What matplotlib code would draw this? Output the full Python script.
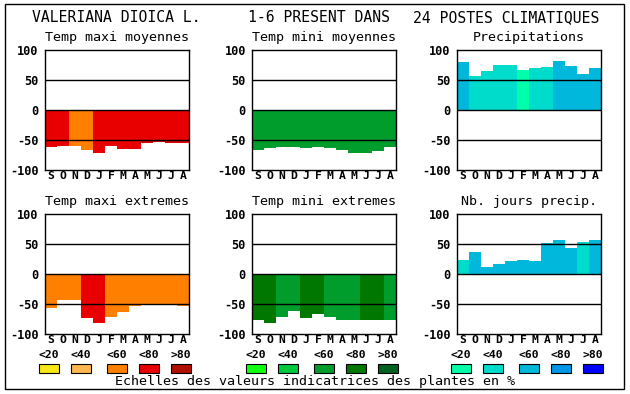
import matplotlib.pyplot as plt
from matplotlib.patches import Rectangle

plt.rcParams["font.family"] = "DejaVu Sans Mono"

W, H = 630, 394

MONTHS = ["S", "O", "N", "D", "J", "F", "M", "A", "M", "J", "J", "A"]
CLASSES = ["<20", "<40", "<60", "<80", ">80"]

WARM = ["#f8e818", "#ffb850", "#ff8000", "#e80000", "#b01000"]
GREEN = ["#10ff10", "#00c83c", "#009c2c", "#007800", "#006020"]
BLUE = ["#00ffaa", "#00dccc", "#00b8dc", "#0096e6", "#0000ff"]

# values (%) and colour class per month
tmax_moy = [-62, -60, -60, -67, -72, -60, -65, -65, -55, -53, -55, -55]
tmax_moy_cls = [3, 3, 2, 2, 3, 3, 3, 3, 3, 3, 3, 3]

tmin_moy = [-66, -64, -61, -61, -63, -61, -63, -66, -71, -71, -68, -61]
tmin_moy_cls = [2] * 12

precip = [80, 57, 65, 75, 75, 67, 70, 72, 82, 73, 60, 70]
precip_cls = [2, 1, 1, 1, 1, 0, 1, 1, 2, 2, 2, 2]

tmax_ext = [-57, -43, -43, -74, -81, -71, -64, -54, -52, -50, -50, -54]
tmax_ext_cls = [2, 2, 2, 3, 3, 2, 2, 2, 2, 2, 2, 2]

tmin_ext = [-77, -82, -72, -62, -74, -66, -71, -77, -77, -77, -77, -77]
tmin_ext_cls = [3, 3, 2, 2, 3, 3, 2, 2, 2, 3, 3, 2]

jours = [24, 36, 12, 17, 22, 24, 22, 52, 56, 44, 54, 57]
jours_cls = [1, 2, 2, 2, 2, 2, 2, 2, 2, 2, 1, 2]

panels = [
    ("Temp maxi moyennes", tmax_moy, tmax_moy_cls, WARM, 45, 50),
    ("Temp mini moyennes", tmin_moy, tmin_moy_cls, GREEN, 252, 50),
    ("Precipitations", precip, precip_cls, BLUE, 457, 50),
    ("Temp maxi extremes", tmax_ext, tmax_ext_cls, WARM, 45, 214),
    ("Temp mini extremes", tmin_ext, tmin_ext_cls, GREEN, 252, 214),
    ("Nb. jours precip.", jours, jours_cls, BLUE, 457, 214),
]

fig = plt.figure(figsize=(W / 100, H / 100), dpi=100)
fig.patch.set_facecolor("white")


def px(x, y):
    return x / W, 1 - y / H


# outer frame
fig.add_artist(Rectangle(px(5, 389), 619 / W, 385 / H, transform=fig.transFigure,
                         fill=False, edgecolor="black", linewidth=1))

# main title
fig.text(*px(32, 18), "VALERIANA DIOICA L.", fontsize=10.6, va="center", ha="left")
fig.text(*px(248, 18), "1-6 PRESENT DANS", fontsize=10.6, va="center", ha="left")
fig.text(*px(413, 18), "24 POSTES CLIMATIQUES", fontsize=10.6, va="center", ha="left")

for title, vals, cls, pal, left, top in panels:
    ax = fig.add_axes([left / W, 1 - (top + 120) / H, 144 / W, 120 / H])
    ax.bar(range(12), vals, width=1.0, color=[pal[c] for c in cls], linewidth=0)
    for y in (50, 0, -50):
        ax.axhline(y, color="black", linewidth=1)
    ax.set_xlim(-0.5, 11.5)
    ax.set_ylim(-100, 100)
    ax.set_yticks([-100, -50, 0, 50, 100])
    ax.set_yticklabels(["-100", "-50", "0", "50", "100"], fontweight="bold", fontsize=8.6)
    ax.set_xticks(range(12))
    ax.set_xticklabels(MONTHS, fontweight="bold", fontsize=8.2)
    ax.tick_params(length=0, pad=4.5)
    ax.tick_params(axis="x", pad=1)
    for s in ax.spines.values():
        s.set_linewidth(1)
    fig.text(*px(left + 72, top - 12), title, fontsize=9.6, ha="center", va="center")

    # colour scale under the bottom row
    if top > 100:
        for i, (lab, col) in enumerate(zip(CLASSES, pal)):
            off = [-6, 26, 62, 94, 126][i]
            fig.add_artist(Rectangle(px(left + off, 373), 20 / W, 9 / H,
                                     transform=fig.transFigure, facecolor=col,
                                     edgecolor="black", linewidth=0.8))
            fig.text(*px(left + off + 10, 355), lab, fontsize=8.2, fontweight="bold",
                     ha="center", va="center")

fig.text(*px(315, 382), "Echelles des valeurs indicatrices des plantes en %",
         fontsize=9.6, ha="center", va="center")

fig.savefig("out.png", dpi=100, facecolor="white")
